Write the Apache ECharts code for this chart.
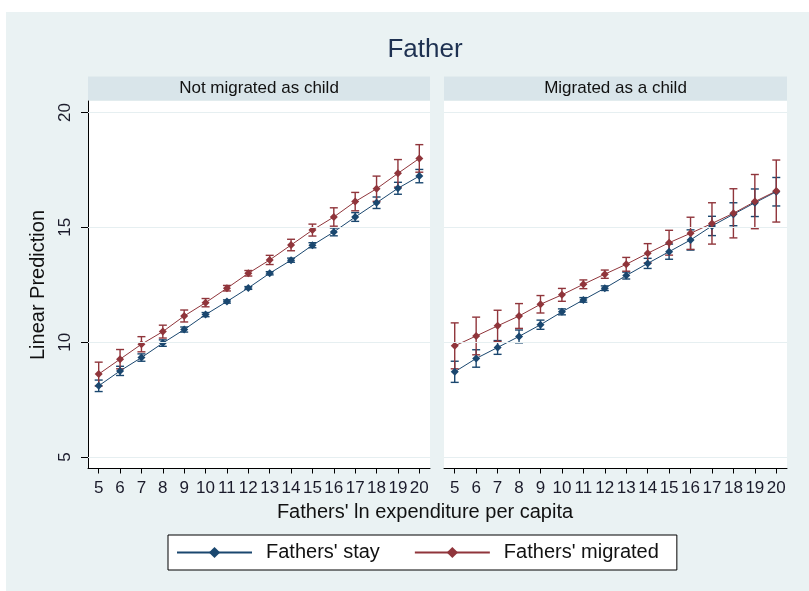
<!DOCTYPE html>
<html>
<head>
<meta charset="utf-8">
<title>Father</title>
<script src="https://cdn.jsdelivr.net/npm/echarts@6/dist/echarts.min.js"></script>
<style>
  html, body { margin: 0; padding: 0; background: #fff; }
  #main { width: 809px; height: 591px; }
</style>
</head>
<body>
<div id="main"></div>
<script>
// x values (fathers' ln expenditure per capita)
const xs = [5, 6, 7, 8, 9, 10, 11, 12, 13, 14, 15, 16, 17, 18, 19, 20];
const yTicks = [5, 10, 15, 20];

// not migrated as child
const stayA = [8.10, 8.75, 9.33, 9.96, 10.55, 11.20, 11.77, 12.36, 13.00, 13.57, 14.22, 14.80, 15.45, 16.07, 16.70, 17.23];
const stayALo = [7.85, 8.55, 9.17, 9.82, 10.44, 11.11, 11.70, 12.30, 12.93, 13.48, 14.11, 14.63, 15.26, 15.82, 16.44, 16.94];
const stayAHi = [8.35, 8.95, 9.49, 10.10, 10.66, 11.29, 11.84, 12.42, 13.07, 13.66, 14.33, 14.97, 15.64, 16.32, 16.96, 17.52];
const migA = [8.61, 9.26, 9.91, 10.46, 11.14, 11.72, 12.35, 13.00, 13.58, 14.23, 14.88, 15.45, 16.12, 16.68, 17.35, 18.00];
const migALo = [8.09, 8.84, 9.58, 10.18, 10.88, 11.54, 12.23, 12.88, 13.38, 13.98, 14.62, 15.05, 15.72, 16.13, 16.75, 17.40];
const migAHi = [9.13, 9.68, 10.24, 10.74, 11.40, 11.90, 12.47, 13.12, 13.78, 14.48, 15.14, 15.85, 16.52, 17.23, 17.95, 18.60];

// migrated as a child
const stayB = [8.71, 9.29, 9.77, 10.25, 10.76, 11.32, 11.84, 12.35, 12.90, 13.43, 13.94, 14.45, 15.06, 15.57, 16.07, 16.55];
const stayBLo = [8.25, 8.91, 9.47, 9.97, 10.56, 11.19, 11.74, 12.25, 12.75, 13.21, 13.61, 14.01, 14.64, 15.07, 15.47, 15.93];
const stayBHi = [9.17, 9.67, 10.07, 10.53, 10.96, 11.45, 11.94, 12.45, 13.05, 13.65, 14.27, 14.89, 15.48, 16.07, 16.67, 17.17];
const migB = [9.84, 10.27, 10.71, 11.14, 11.65, 12.06, 12.52, 12.96, 13.39, 13.87, 14.33, 14.74, 15.17, 15.61, 16.12, 16.58];
const migBLo = [8.84, 9.45, 10.03, 10.60, 11.27, 11.78, 12.33, 12.78, 13.09, 13.45, 13.79, 14.04, 14.27, 14.54, 14.94, 15.23];
const migBHi = [10.84, 11.09, 11.39, 11.68, 12.03, 12.34, 12.71, 13.14, 13.69, 14.29, 14.87, 15.44, 16.07, 16.68, 17.30, 17.93];

const BLUE = '#1a476f';
const RED = '#90353b';
const FONT = '"Liberation Sans", Arial, sans-serif';

const chart = echarts.init(document.getElementById('main'));

function pairs(ys) {
  return xs.map((x, i) => [x, ys[i]]);
}
function bars(lo, hi) {
  return xs.map((x, i) => [x, lo[i], hi[i]]);
}

// vertical capped error bars
function errorSeries(idx, lo, hi, color) {
  return {
    type: 'custom',
    xAxisIndex: idx,
    yAxisIndex: idx,
    silent: true,
    z: 3,
    encode: { x: 0, y: [1, 2] },
    data: bars(lo, hi),
    renderItem: function (params, api) {
      const top = api.coord([api.value(0), api.value(2)]);
      const bot = api.coord([api.value(0), api.value(1)]);
      const w = 4;
      const st = { stroke: color, lineWidth: 1.4 };
      return {
        type: 'group',
        children: [
          { type: 'line', shape: { x1: top[0], y1: top[1], x2: bot[0], y2: bot[1] }, style: st },
          { type: 'line', shape: { x1: top[0] - w, y1: top[1], x2: top[0] + w, y2: top[1] }, style: st },
          { type: 'line', shape: { x1: bot[0] - w, y1: bot[1], x2: bot[0] + w, y2: bot[1] }, style: st }
        ]
      };
    }
  };
}

function lineSeries(idx, name, ys, color, withGrid) {
  const s = {
    name: name,
    type: 'line',
    xAxisIndex: idx,
    yAxisIndex: idx,
    data: pairs(ys),
    symbol: 'diamond',
    symbolSize: 8,
    showSymbol: true,
    z: 4,
    color: color,
    lineStyle: { width: 1, color: color },
    itemStyle: { color: color },
    emphasis: { disabled: true }
  };
  if (withGrid) {
    // light horizontal grid lines at the y ticks
    s.markLine = {
      silent: true,
      symbol: 'none',
      label: { show: false },
      lineStyle: { color: '#e6eff1', width: 1, type: 'solid' },
      data: yTicks.map(v => ({ yAxis: v }))
    };
  }
  return s;
}

function xAxisFor(idx) {
  return {
    type: 'value',
    gridIndex: idx,
    min: 4.5,
    max: 20.5,
    axisLine: { show: true, onZero: false, lineStyle: { color: '#000', width: 1 } },
    axisTick: { show: true, length: 5, lineStyle: { color: '#000' }, customValues: xs },
    axisLabel: { customValues: xs, fontSize: 17, color: '#1b1b2b', fontFamily: FONT, margin: 11 },
    splitLine: { show: false }
  };
}

function yAxisFor(idx, showAxis) {
  return {
    type: 'value',
    gridIndex: idx,
    min: 4.5,
    max: 20.5,
    axisLine: { show: showAxis, lineStyle: { color: '#000', width: 1 } },
    axisTick: { show: showAxis, length: 7, lineStyle: { color: '#000' }, customValues: yTicks },
    axisLabel: { show: showAxis, customValues: yTicks, rotate: 90, fontSize: 17, color: '#1b1b2b', fontFamily: FONT, margin: 14 },
    splitLine: { show: false }
  };
}

chart.setOption({
  animation: false,
  backgroundColor: '#fff',
  graphic: [
    { type: 'rect', z: -10, shape: { x: 6, y: 12, width: 803, height: 579 }, style: { fill: '#eaf2f3' } },
    { type: 'rect', z: -5, shape: { x: 88, y: 76.5, width: 342, height: 24 }, style: { fill: '#d9e5ea' } },
    { type: 'rect', z: -5, shape: { x: 444, y: 76.5, width: 343, height: 24 }, style: { fill: '#d9e5ea' } },
    { type: 'text', x: 259, y: 88.5, style: { text: 'Not migrated as child', fontSize: 17, fontFamily: FONT, fill: '#111', align: 'center', verticalAlign: 'middle' } },
    { type: 'text', x: 615.5, y: 88.5, style: { text: 'Migrated as a child', fontSize: 17, fontFamily: FONT, fill: '#111', align: 'center', verticalAlign: 'middle' } },
    { type: 'text', x: 425, y: 50, style: { text: 'Father', fontSize: 26, fontFamily: FONT, fill: '#1e3151', align: 'center', verticalAlign: 'middle' } },
    { type: 'text', x: 38, y: 285, rotation: Math.PI / 2, style: { text: 'Linear Prediction', fontSize: 20, fontFamily: FONT, fill: '#111', align: 'center', verticalAlign: 'middle' } },
    { type: 'text', x: 425, y: 512, style: { text: "Fathers' ln expenditure per capita", fontSize: 20, fontFamily: FONT, fill: '#111', align: 'center', verticalAlign: 'middle' } }
  ],
  grid: [
    { left: 88, top: 101, width: 342, height: 367.5, show: true, backgroundColor: '#fff', borderWidth: 0 },
    { left: 444, top: 101, width: 343, height: 367.5, show: true, backgroundColor: '#fff', borderWidth: 0 }
  ],
  xAxis: [xAxisFor(0), xAxisFor(1)],
  yAxis: [yAxisFor(0, true), yAxisFor(1, false)],
  legend: {
    data: ["Fathers' stay", "Fathers' migrated"],
    left: 168,
    top: 535,
    orient: 'horizontal',
    padding: [7, 18, 7, 8],
    itemGap: 34,
    itemWidth: 75,
    itemHeight: 14,
    borderColor: '#000',
    borderWidth: 1,
    borderRadius: 0,
    backgroundColor: '#fff',
    selectedMode: false,
    textStyle: { fontSize: 20, fontFamily: FONT, color: '#111', padding: [0, 0, 0, 9], lineHeight: 21 }
  },
  series: [
    lineSeries(0, "Fathers' stay", stayA, BLUE, true),
    lineSeries(0, "Fathers' migrated", migA, RED, false),
    errorSeries(0, stayALo, stayAHi, BLUE),
    errorSeries(0, migALo, migAHi, RED),
    lineSeries(1, "Fathers' stay", stayB, BLUE, true),
    lineSeries(1, "Fathers' migrated", migB, RED, false),
    errorSeries(1, stayBLo, stayBHi, BLUE),
    errorSeries(1, migBLo, migBHi, RED)
  ]
});
</script>
</body>
</html>
